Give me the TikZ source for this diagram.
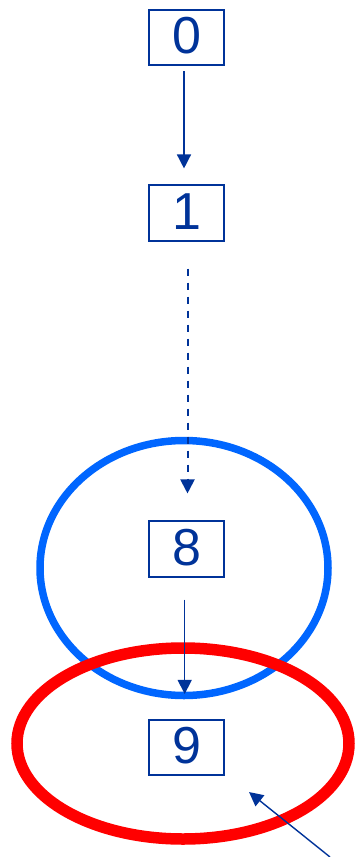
\documentclass[tikz,border=0pt]{standalone}
\usepackage{fontspec}
\setmainfont{Liberation Sans}
\usetikzlibrary{arrows.meta,calc}
\definecolor{navy}{HTML}{003399}
\definecolor{ringblue}{HTML}{0066FF}
\definecolor{ringred}{HTML}{FF0000}
\begin{document}
\begin{tikzpicture}[x=1pt,y=-1pt,
  box/.style={draw=navy, line width=1.6pt, minimum width=75.5pt, minimum height=55.5pt,
    inner sep=0pt, text=navy, font=\fontsize{52}{52}\selectfont, text height=37pt, text depth=5pt},
  link/.style={draw=navy, line width=1.4pt, -{Triangle[width=14pt,length=14pt]}}]
\useasboundingbox (0,0) rectangle (354,857);
% rings
\draw[ringblue, line width=7.5pt] (184,568) ellipse [x radius=144pt, y radius=127.5pt];
\draw[ringred, line width=11.5pt] (183,743.5) ellipse [x radius=166pt, y radius=95.5pt];
% boxes
\node[box] (b0) at (186.5,37.5) {0};
\node[box] (b1) at (186.5,213) {1};
\node[box] (b8) at (186.5,549) {8};
\node[box] (b9) at (186.5,747.5) {9};
% connectors
\draw[link] ($(b0.south)+(-2.5,5)$) -- ($(b1.north)+(-2.5,-16)$);
\draw[link, line width=2pt, dash pattern=on 7pt off 7pt] ($(b1.south)+(1,27)$) -- ($(b8.north)+(1,-27)$);
\draw[link] ($(b8.south)+(-1.8,22)$) -- ($(b9.north)+(-1.8,-25)$);
\coordinate (tail) at (330,857);
\coordinate (tip) at ($(b9.south east)+(24,16)$);
\draw[link] (tail) -- (tip);
\end{tikzpicture}
\end{document}
